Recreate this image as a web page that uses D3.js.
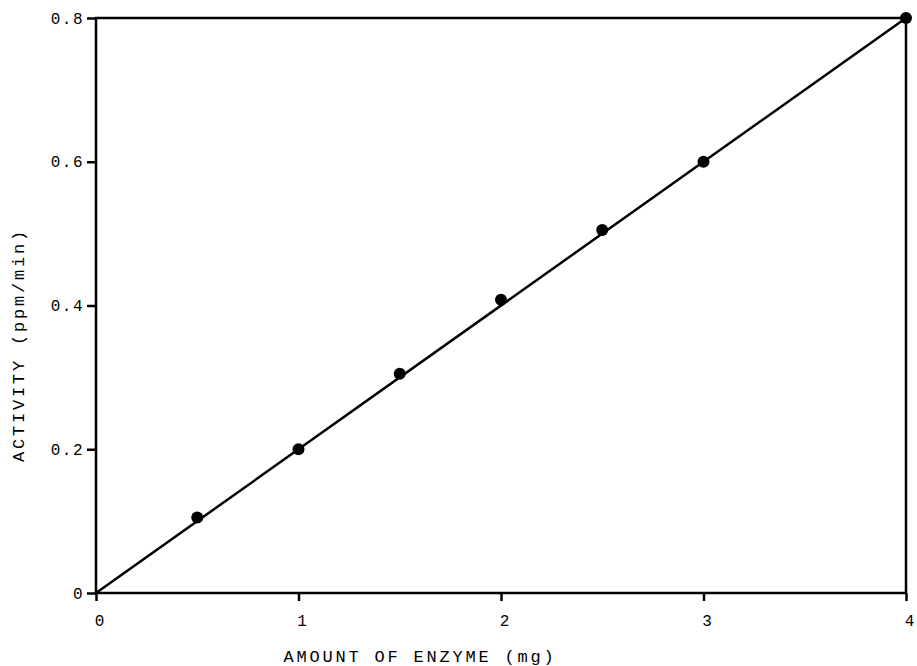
<!DOCTYPE html>
<html>
<head>
<meta charset="utf-8">
<script src="https://cdn.jsdelivr.net/npm/d3@7"></script>
<style>
  html, body { margin: 0; padding: 0; background: #fff; }
  svg text { font-family: "Liberation Mono", "DejaVu Sans Mono", monospace; fill: #000; }
</style>
</head>
<body>
<svg id="chart" width="917" height="666"></svg>
<script>
// Enzyme amount (mg) vs measured activity (ppm/min)
const enzymeMg = [0.5, 1, 1.5, 2, 2.5, 3, 4];
const activity = [0.105, 0.2, 0.305, 0.408, 0.505, 0.6, 0.8];
// Fitted straight line through the origin
const fitX = [0, 4];
const fitY = [0, 0.8];
const xTicks = [0, 1, 2, 3, 4];
const yTicks = [0, 0.2, 0.4, 0.6, 0.8];

const svg = d3.select("#chart");
const margin = { left: 96, right: 11, top: 18, bottom: 73 };
const W = 917, H = 666;

const x = d3.scaleLinear().domain([0, 4]).range([margin.left, W - margin.right]);
const y = d3.scaleLinear().domain([0, 0.8]).range([H - margin.bottom, margin.top]);

// Frame
svg.append("rect")
  .attr("x", x(0)).attr("y", y(0.8))
  .attr("width", x(4) - x(0)).attr("height", y(0) - y(0.8))
  .attr("fill", "none").attr("stroke", "#000").attr("stroke-width", 2.5);

// Axes
const xAxis = d3.axisBottom(x).tickValues(xTicks).tickSize(8).tickPadding(14)
  .tickFormat(d3.format("d"));
svg.append("g").attr("transform", `translate(0,${y(0)})`).call(xAxis)
  .call(g => g.select(".domain").remove())
  .call(g => g.selectAll("line").attr("stroke-width", 2.5))
  .call(g => g.selectAll("text").attr("font-size", 16).attr("dx", 3));

const yAxis = d3.axisLeft(y).tickValues(yTicks).tickSize(9).tickPadding(3)
  .tickFormat(d => d === 0 ? "0" : d3.format(".1f")(d));
svg.append("g").attr("transform", `translate(${x(0)},0)`).call(yAxis)
  .call(g => g.select(".domain").remove())
  .call(g => g.selectAll("line").attr("stroke-width", 2.5))
  .call(g => g.selectAll("text").attr("font-size", 16).attr("letter-spacing", 1.5));

// Fit line
const line = d3.line().x(d => x(d[0])).y(d => y(d[1]));
svg.append("path")
  .datum(fitX.map((v, i) => [v, fitY[i]]))
  .attr("d", line)
  .attr("fill", "none").attr("stroke", "#000").attr("stroke-width", 2.5);

// Data points
svg.append("g").selectAll("circle")
  .data(enzymeMg.map((v, i) => [v, activity[i]]))
  .join("circle")
  .attr("cx", d => x(d[0])).attr("cy", d => y(d[1]))
  .attr("r", 6).attr("fill", "#000");

// Axis titles
svg.append("text")
  .attr("x", 420).attr("y", 662)
  .attr("text-anchor", "middle").attr("font-size", 17).attr("letter-spacing", 2.8)
  .text("AMOUNT OF ENZYME (mg)");

svg.append("text")
  .attr("transform", "translate(24,345) rotate(-90)")
  .attr("text-anchor", "middle").attr("font-size", 17).attr("letter-spacing", 2.8)
  .text("ACTIVITY (ppm/min)");
</script>
</body>
</html>
